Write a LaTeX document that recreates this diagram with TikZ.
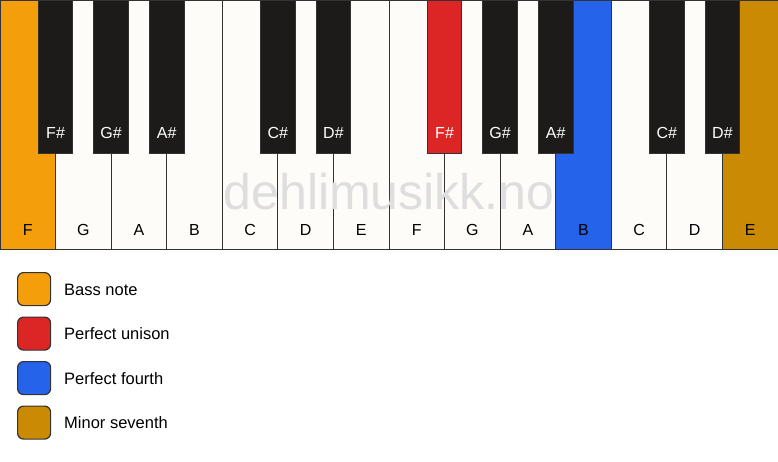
\documentclass[tikz,border=0pt]{standalone}
\usepackage{fontspec}
\setmainfont{Liberation Sans}
\definecolor{bassc}{HTML}{F59E0B}
\definecolor{unisc}{HTML}{DC2626}
\definecolor{fourc}{HTML}{2563EB}
\definecolor{sevc}{HTML}{CA8A04}
\definecolor{ivory}{HTML}{FDFCF8}
\definecolor{ebony}{HTML}{1C1B1A}
\definecolor{edge}{HTML}{333333}
\definecolor{wmark}{HTML}{DEDEDE}
\begin{document}
\begin{tikzpicture}[x=1pt,y=-1pt,
  whitekey/.style={draw=edge,line width=1pt,fill=ivory,minimum width=55.57pt,minimum height=249pt,anchor=north west,inner sep=0pt,outer sep=0pt},
  blackkey/.style={draw=edge,line width=0.8pt,fill=ebony,minimum width=34.5pt,minimum height=153pt,anchor=north,inner sep=0pt,outer sep=0pt},
  wlabel/.style={font=\fontsize{16}{19}\selectfont,text=black,anchor=center,inner sep=0pt},
  blabel/.style={font=\fontsize{16}{19}\selectfont,text=white,anchor=center,inner sep=0pt},
  legbox/.style={draw=edge,line width=1.2pt,rounded corners=6pt,minimum width=33pt,minimum height=33pt,anchor=north west,inner sep=0pt},
  legtext/.style={font=\fontsize{16.5}{19}\selectfont,anchor=west,inner sep=0pt},
  watermark/.style={font=\fontsize{50}{56}\selectfont,text=wmark}]
\useasboundingbox (0,0) rectangle (778,461);
\fill[white] (0,0) rectangle (778,461);
% white keys
\foreach \i/\n/\c in {0/F/bassc,1/G/ivory,2/A/ivory,3/B/ivory,4/C/ivory,5/D/ivory,6/E/ivory,7/F/ivory,8/G/ivory,9/A/ivory,10/B/fourc,11/C/ivory,12/D/ivory,13/E/sevc}{
  \node[whitekey,fill=\c] (w\i) at ({\i*55.571},0) {};
  \node[wlabel] (wl\i) at ({\i*55.571+27.79},230) {\n};
}
% watermark
\node[watermark] (wm) at (389,192) {dehlimusikk.no};
% black keys
\foreach \b/\n/\c in {1/F\#/ebony,2/G\#/ebony,3/A\#/ebony,5/C\#/ebony,6/D\#/ebony,8/F\#/unisc,9/G\#/ebony,10/A\#/ebony,12/C\#/ebony,13/D\#/ebony}{
  \node[blackkey,fill=\c] (b\b) at ({\b*55.571},0) {};
  \node[blabel] (bl\b) at ({\b*55.571},133) {\n};
}
% legend
\foreach \k/\c/\t in {0/bassc/Bass note,1/unisc/Perfect unison,2/fourc/Perfect fourth,3/sevc/Minor seventh}{
  \node[legbox,fill=\c] (lb\k) at (17,{272+\k*44.5}) {};
  \node[legtext] (lt\k) at (64,{289.5+\k*44.5}) {\t};
}
\end{tikzpicture}
\end{document}
